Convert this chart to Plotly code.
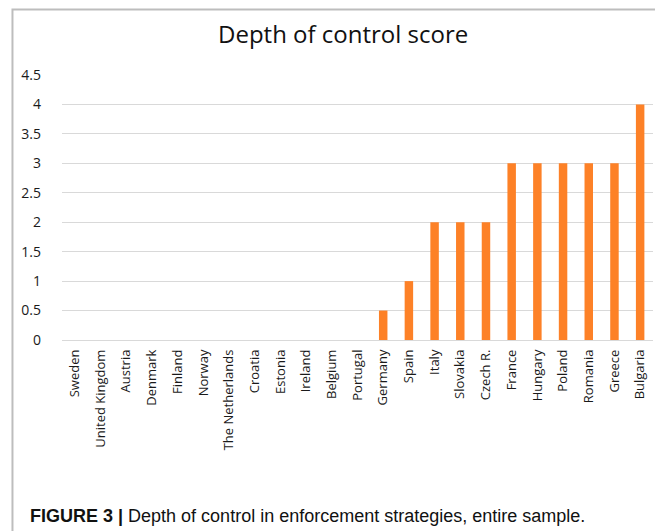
import plotly.graph_objects as go

countries = ["Sweden", "United Kingdom", "Austria", "Denmark", "Finland", "Norway",
             "The Netherlands", "Croatia", "Estonia", "Ireland", "Belgium", "Portugal",
             "Germany", "Spain", "Italy", "Slovakia", "Czech R.", "France", "Hungary",
             "Poland", "Romania", "Greece", "Bulgaria"]
scores = [0, 0, 0, 0, 0, 0, 0, 0, 0, 0, 0, 0, 0.5, 1, 2, 2, 2, 3, 3, 3, 3, 3, 4]
y_ticks = [0, 0.5, 1, 1.5, 2, 2.5, 3, 3.5, 4, 4.5]
y_tick_labels = ["0", "0.5", "1", "1.5", "2", "2.5", "3", "3.5", "4", "4.5"]

# page body has an 8px margin; work in reference pixel coords and offset
OFF = 8
W, H = 663 - OFF, 531 - OFF
L, R, T, B = 62 - OFF, 10.3, 75 - OFF, 191
pw = W - L - R
ph = H - T - B

def px_x(px):
    return (px - OFF - L) / pw

def px_y(py):
    return (H - B - (py - OFF)) / ph

fig = go.Figure(go.Bar(
    x=countries, y=scores,
    marker=dict(color="#FD8127", line=dict(width=0)),
))

fig.update_layout(
    width=W, height=H,
    margin=dict(l=L, r=R, t=T, b=B),
    paper_bgcolor="white", plot_bgcolor="white",
    bargap=0.67,
    showlegend=False,
    font=dict(family="Open Sans, sans-serif", color="#222222"),
    title=dict(text="Depth of control score", x=px_x(343), xref="paper",
               xanchor="center", y=1 - (35 - OFF) / H, yanchor="middle",
               font=dict(size=24, color="#111111", family="Open Sans, sans-serif")),
    xaxis=dict(tickangle=-90, tickfont=dict(size=13, color="#1a1a1a"),
               showgrid=False, showline=False, ticks="", ticklabelstandoff=6),
    yaxis=dict(range=[0, 4.5], tickvals=y_ticks, ticktext=y_tick_labels,
               showgrid=True, gridcolor="#d9d9d9", gridwidth=1,
               zeroline=True, zerolinecolor="#d9d9d9", zerolinewidth=1,
               tickfont=dict(size=14, color="#1a1a1a"), ticks="",
               ticklabelstandoff=20),
    shapes=[
        dict(type="rect", xref="paper", yref="paper",
             x0=px_x(12.5), x1=px_x(660), y0=px_y(545), y1=px_y(9.5),
             line=dict(color="#bdbdbd", width=2), fillcolor="rgba(0,0,0,0)",
             layer="below"),
    ],
    annotations=[
        dict(xref="paper", yref="paper", x=px_x(28), y=px_y(516),
             xanchor="left", yanchor="middle", showarrow=False,
             text="<b>FIGURE 3 |</b> Depth of control in enforcement strategies, entire sample.",
             font=dict(family="Liberation Sans, Arial, sans-serif", size=18, color="#111111")),
    ],
)

fig.write_html("out.html")
